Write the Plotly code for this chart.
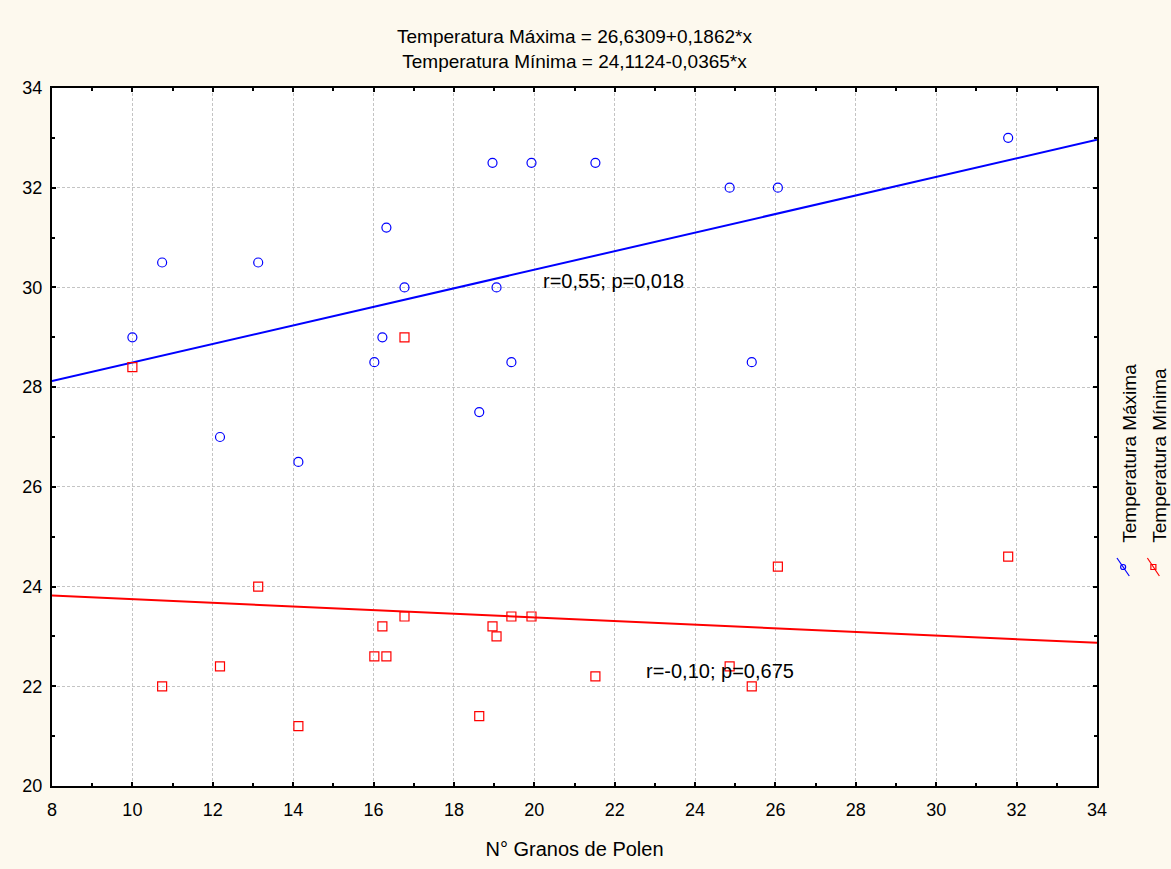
import plotly.graph_objects as go
import numpy as np

# ---- data ----
pollen_max = [10.0, 10.74, 12.18, 13.13, 14.13, 16.02, 16.22, 16.32, 16.77, 18.63,
              18.96, 19.06, 19.43, 19.93, 21.52, 24.86, 25.41, 26.06, 31.79]
temp_max = [29.0, 30.5, 27.0, 30.5, 26.5, 28.5, 29.0, 31.2, 30.0, 27.5,
            32.5, 30.0, 28.5, 32.5, 32.5, 32.0, 28.5, 32.0, 33.0]

pollen_min = [10.0, 10.74, 12.18, 13.13, 14.13, 16.02, 16.22, 16.32, 16.77, 16.77,
              18.63, 18.96, 19.06, 19.43, 19.93, 21.52, 24.86, 25.41, 26.06, 31.79]
temp_min = [28.4, 22.0, 22.4, 24.0, 21.2, 22.6, 23.2, 22.6, 23.4, 29.0,
            21.4, 23.2, 23.0, 23.4, 23.4, 22.2, 22.4, 22.0, 24.4, 24.6]

# regression coefficients stated in the chart
fit_max = (26.6309, 0.1862)
fit_min = (24.1124, -0.0365)
x_range = [8, 34]

title_lines = ["Temperatura Máxima = 26,6309+0,1862*x",
               "Temperatura Mínima = 24,1124-0,0365*x"]
stat_max = "r=0,55; p=0,018"
stat_min = "r=-0,10; p=0,675"
series_names = ["Temperatura Máxima", "Temperatura Mínima"]
x_title = "N° Granos de Polen"

FONT = "Liberation Sans, Arial, sans-serif"
BLUE = "#0000ff"
RED = "#ff0000"
BG = "#fdf9ee"

W, H = 1171, 869

xs = np.array(x_range, dtype=float)

fig = go.Figure()
fig.add_trace(go.Scatter(x=xs, y=fit_max[0] + fit_max[1] * xs, mode="lines",
                         line=dict(color=BLUE, width=2), showlegend=False, hoverinfo="skip"))
fig.add_trace(go.Scatter(x=xs, y=fit_min[0] + fit_min[1] * xs, mode="lines",
                         line=dict(color=RED, width=2), showlegend=False, hoverinfo="skip"))
fig.add_trace(go.Scatter(x=pollen_max, y=temp_max, mode="markers", name=series_names[0],
                         marker=dict(symbol="circle-open", size=9, color=BLUE,
                                     line=dict(width=1.2, color=BLUE)),
                         showlegend=False))
fig.add_trace(go.Scatter(x=pollen_min, y=temp_min, mode="markers", name=series_names[1],
                         marker=dict(symbol="square-open", size=9, color=RED,
                                     line=dict(width=1.2, color=RED)),
                         showlegend=False))

axis_common = dict(
    showline=True, linecolor="black", linewidth=2, mirror="ticks",
    ticks="inside", ticklen=4, tickwidth=1.5, tickcolor="black",
    showgrid=True, gridcolor="#c4c4c4", griddash="3px,2px", gridwidth=1,
    zeroline=False,
    tickfont=dict(family=FONT, size=18, color="black"),
    minor=dict(ticks="inside", ticklen=3, tickwidth=1.5, tickcolor="black",
               dtick=1, showgrid=False),
)

fig.update_xaxes(range=x_range, dtick=2, tick0=8, ticklabelstandoff=6,
                 title=dict(text=x_title, font=dict(family=FONT, size=20, color="black"),
                            standoff=23),
                 **axis_common)
fig.update_yaxes(range=[20, 34], dtick=2, tick0=20, ticklabelstandoff=4, **axis_common)

annotations = [
    dict(x=20.16, y=30.12, xref="x", yref="y", text=stat_max, showarrow=False,
         xanchor="left", yanchor="middle", font=dict(family=FONT, size=20, color="black")),
    dict(x=22.73, y=22.31, xref="x", yref="y", text=stat_min, showarrow=False,
         xanchor="left", yanchor="middle", font=dict(family=FONT, size=20, color="black")),
]
# rotated legend labels
for i, name in enumerate(series_names):
    annotations.append(dict(x=1.0316 + i * 0.0287, y=0.345, xref="paper", yref="paper",
                            text=name, textangle=-90, showarrow=False,
                            xanchor="center", yanchor="bottom",
                            font=dict(family=FONT, size=19, color="black")))

shapes = []
glyphs = [(1.0191, 1.0309, BLUE, "circle"), (1.0482, 1.0597, RED, "rect")]
for x0, x1, col, kind in glyphs:
    shapes.append(dict(type="line", xref="paper", yref="paper", x0=x0, y0=0.3266,
                       x1=x1, y1=0.3009, line=dict(color=col, width=1.2)))
    cx, cy = (x0 + x1) / 2, (0.3266 + 0.3009) / 2
    shapes.append(dict(type=kind, xref="paper", yref="paper",
                       x0=cx - 0.0024, x1=cx + 0.0024, y0=cy - 0.0036, y1=cy + 0.0036,
                       line=dict(color=col, width=1.2), fillcolor="rgba(0,0,0,0)"))

fig.update_layout(
    width=W, height=H, autosize=False,
    margin=dict(l=52, r=74, t=88, b=83, pad=0),
    paper_bgcolor=BG, plot_bgcolor="white",
    title=dict(text="<br>".join(title_lines), x=0.5, xref="paper", xanchor="center",
               y=1 - 43 / H, yref="container", yanchor="top",
               font=dict(family=FONT, size=19, color="black")),
    annotations=annotations, shapes=shapes,
    showlegend=False,
)

fig.write_html(
    "out.html",
    config={"displayModeBar": False},
    post_script="document.body.style.margin='0px';document.body.style.overflow='hidden';",
)
